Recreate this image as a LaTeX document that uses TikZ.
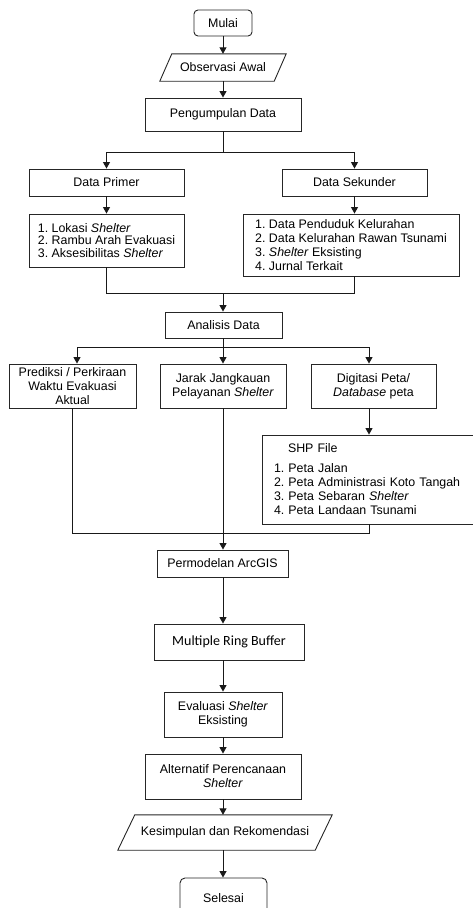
\documentclass[tikz,border=0pt]{standalone}
\usepackage{fontspec}
\setmainfont{Liberation Sans}
\newfontfamily\calib{Carlito}
\usetikzlibrary{arrows.meta,calc}
\frenchspacing
\begin{document}
\begin{tikzpicture}[x=1pt,y=-1pt,
  box/.style={draw=black!85,line width=0.9pt,minimum width=#1,inner sep=0pt,align=center},
  listbox/.style={draw=black!85,line width=0.9pt,minimum width=#1,inner sep=0pt,align=left},
  ghost/.style={minimum width=#1,inner sep=0pt,align=center},
  conn/.style={line width=1pt,black!90},
  arr/.style={conn,-{Triangle[length=6.5pt,width=7pt]}},
  font=\frenchspacing\fontsize{12.4}{14}\selectfont]
\useasboundingbox (0,0) rectangle (472,908);

\node[box=58,minimum height=26,rounded corners=4pt] (mulai) at (223,23) {Mulai};
\node[ghost=126,minimum height=27] (obs) at (223,67.5) {Observasi Awal};
\draw[line width=0.9pt,black!85] (obs.south west) -- ($(obs.north west)+(12,0)$) -- (obs.north east) -- ($(obs.south east)+(-12,0)$) -- cycle;
\node[box=156,minimum height=33] (peng) at (223,114.5) {Pengumpulan Data};
\node[box=155,minimum height=27] (primer) at (106.5,182.5) {Data Primer};
\node[box=145,minimum height=27] (sekunder) at (354.5,182.5) {Data Sekunder};
\node[listbox=155,minimum height=53,font=\frenchspacing\fontsize{12.4}{12.8}\selectfont] (plist) at (106.5,240.5) {1. Lokasi \textit{Shelter}\\2. Rambu Arah Evakuasi\\3. Aksesibilitas \textit{Shelter}};
\node[listbox=216,minimum height=62] (slist) at (351,245) {1. Data Penduduk Kelurahan\\2. Data Kelurahan Rawan Tsunami\\3. \textit{Shelter} Eksisting\\4. Jurnal Terkait};
\node[box=117,minimum height=26] (analisis) at (223.5,325) {Analisis Data};
\node[box=127,minimum height=44] (prediksi) at (72.5,386) {Prediksi / Perkiraan\\Waktu Evakuasi\\Aktual};
\node[box=126,minimum height=44] (jarak) at (223,386) {Jarak Jangkauan\\Pelayanan \textit{Shelter}};
\node[box=125,minimum height=44] (digitasi) at (373.5,386) {Digitasi Peta/\\\textit{Database} peta};
\node[draw=black!85,line width=0.9pt,inner xsep=12pt,inner ysep=0pt,text width=194pt,align=left,minimum height=89] (shp) at (371,479.5) {\hspace*{14pt}SHP File\\[6pt]1. Peta Jalan\\2. Peta Administrasi Koto Tangah\\3. Peta Sebaran \textit{Shelter}\\4. Peta Landaan Tsunami};
\node[box=131,minimum height=27] (permodelan) at (222.5,563.5) {Permodelan ArcGIS};
\node[box=150,minimum height=36,font=\calib\fontsize{14}{16}\selectfont] (mrb) at (229,642) {Multiple Ring Buffer};
\node[box=118,minimum height=45] (evaluasi) at (223,714.5) {Evaluasi \textit{Shelter}\\Eksisting};
\node[box=156,minimum height=45] (alternatif) at (223,776.5) {Alternatif Perencanaan\\\textit{Shelter}};
\node[ghost=214,minimum height=35] (kesimpulan) at (225,832.5) {Kesimpulan dan Rekomendasi};
\draw[line width=0.9pt,black!85] (kesimpulan.south west) -- ($(kesimpulan.north west)+(17,0)$) -- (kesimpulan.north east) -- ($(kesimpulan.south east)+(-17,0)$) -- cycle;
\node[box=87,minimum height=40,rounded corners=5pt] (selesai) at (223.5,898) {Selesai};

\coordinate (j1) at (223,152);
\coordinate (j2) at (223,293);
\coordinate (ha) at (77,347);
\coordinate (hm) at (223,347);
\coordinate (hb) at (369,347);
\coordinate (j3) at (223,533);

\draw[arr] (mulai) -- (obs);
\draw[arr] (obs) -- (peng);
\draw[conn] (peng) -- (j1);
\draw[arr] (j1) -| (primer.north);
\draw[arr] (j1) -| (sekunder.north);
\draw[arr] (primer) -- (plist);
\draw[arr] (sekunder.south) -- (sekunder.south |- slist.north);
\draw[conn] (plist.south) |- (j2);
\draw[conn] (sekunder.south |- slist.south) |- (j2);
\draw[arr] (j2) -- (analisis.north -| j2);
\draw[conn] (analisis.south -| hm) -- (hm);
\draw[conn] (ha) -- (hb);
\draw[arr] (ha) -- (ha |- prediksi.north);
\draw[arr] (hm) -- (jarak.north);
\draw[arr] (hb) -- (hb |- digitasi.north);
\draw[arr] (hb |- digitasi.south) -- (hb |- shp.north);
\draw[conn] (prediksi.south) |- (j3);
\draw[conn] (hb |- shp.south) |- (j3);
\draw[arr] (jarak.south) -- (permodelan.north -| jarak.south);
\draw[arr] (permodelan.south -| j3) -- (j3 |- mrb.north);
\draw[arr] (j3 |- mrb.south) -- (j3 |- evaluasi.north);
\draw[arr] (evaluasi) -- (alternatif);
\draw[arr] (alternatif.south) -- (alternatif.south |- kesimpulan.north);
\draw[arr] (alternatif.south |- kesimpulan.south) -- (alternatif.south |- selesai.north);
\end{tikzpicture}
\end{document}
